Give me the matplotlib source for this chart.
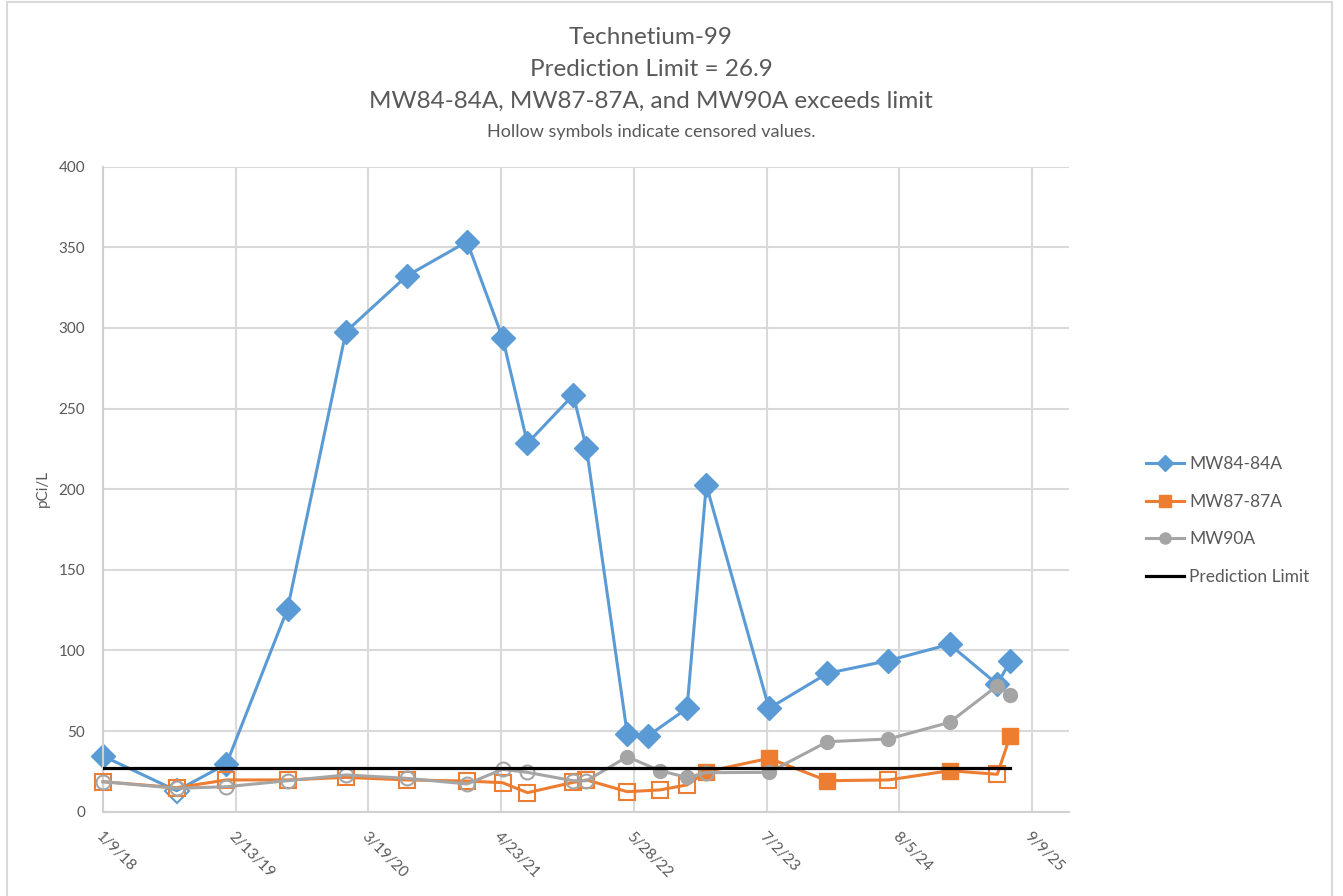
import pandas as pd
import matplotlib.pyplot as plt
from matplotlib.lines import Line2D
from matplotlib.patches import Rectangle

plt.rcParams['font.family'] = ['Lato', 'DejaVu Sans']

# sample dates
dates_84 = ["2018-01-09", "2018-08-19", "2019-01-16", "2019-07-19", "2020-01-11",
            "2020-07-12", "2021-01-10", "2021-04-27", "2021-07-11", "2021-11-26",
            "2022-01-05", "2022-05-08", "2022-07-10", "2022-11-04", "2023-01-01",
            "2023-07-09", "2024-01-01", "2024-07-03", "2025-01-03", "2025-05-27",
            "2025-07-05"]
dates_87_90 = ["2018-01-09", "2018-08-19", "2019-01-16", "2019-07-19", "2020-01-11",
               "2020-07-12", "2021-01-10", "2021-04-27", "2021-07-11", "2021-11-26",
               "2022-01-05", "2022-05-08", "2022-08-14", "2022-11-04", "2023-01-01",
               "2023-07-09", "2024-01-01", "2024-07-03", "2025-01-03", "2025-05-27",
               "2025-07-05"]

# pCi/L values
mw84 = [34.5, 13, 29.6, 125.7, 297.7, 332.2, 353.5, 294, 228.5, 258.4, 225.3,
        48, 47.1, 64.1, 202.6, 64.1, 85.8, 93.7, 103.8, 79, 93.5]
mw87 = [18.6, 14.9, 19.7, 19.7, 21.3, 19.7, 19, 18, 11.8, 18.2, 19.7,
        12.4, 13.5, 16.6, 24.8, 33.1, 19.2, 19.7, 25.4, 23.2, 47.1]
mw90 = [18.6, 14.5, 15.5, 19.2, 22.8, 20.7, 17.2, 26.3, 24.4, 19.2, 19.2,
        34.1, 25.4, 21.3, 24.2, 24.4, 43.4, 45.1, 55.4, 78.1, 72.4]

# censored (hollow) flags
cens_84 = [0, 1, 0, 0, 0, 0, 0, 0, 0, 0, 0, 0, 0, 0, 0, 0, 0, 0, 0, 0, 0]
cens_87 = [1, 1, 1, 1, 1, 1, 1, 1, 1, 1, 1, 1, 1, 1, 0, 0, 0, 1, 0, 1, 0]
cens_90 = [1, 1, 1, 1, 1, 1, 1, 1, 1, 1, 1, 0, 0, 0, 1, 0, 0, 0, 0, 0, 0]

pred_limit = 26.9
axis_start = "2018-01-09"

fig = plt.figure(figsize=(13.43, 8.96), dpi=100)
ax = fig.add_axes([103 / 1343, 1 - 811.7 / 896, (1069 - 103) / 1343, (811.7 - 166.7) / 896])

series = [
    ("MW84-84A", dates_84, mw84, cens_84, '#5B9BD5', 'D', 12, 8),
    ("MW87-87A", dates_87_90, mw87, cens_87, '#ED7D31', 's', 12, 8),
    ("MW90A", dates_87_90, mw90, cens_90, '#A5A5A5', 'o', 10, 8),
]

handles = []
for z, (name, dts, vals, cens, col, mk, ms, lms) in enumerate(series):
    d = pd.to_datetime(dts)
    s = pd.Series(vals, index=d)
    c = pd.Series(cens, index=d).astype(bool)
    ax.plot(d, vals, color=col, lw=2.2, zorder=2 + z, clip_on=False)
    ax.plot(s[~c].index, s[~c].values, ls='none', marker=mk, ms=ms,
            color=col, mec=col, zorder=2 + z, clip_on=False)
    ax.plot(s[c].index, s[c].values, ls='none', marker=mk, ms=ms,
            mfc='none', mec=col, mew=1.5, zorder=2 + z, clip_on=False)
    handles.append(Line2D([], [], color=col, lw=2.2, marker=mk, ms=lms, label=name))

pl_dates = pd.to_datetime([dates_84[0], dates_84[-1]])
ax.plot(pl_dates, [pred_limit, pred_limit], color='black', lw=2.3, zorder=6)
handles.append(Line2D([], [], color='black', lw=2.3, label='Prediction Limit'))

# axes
start = pd.Timestamp(axis_start)
ticks = pd.date_range(start, periods=8, freq='400D')
ax.set_xticks(ticks)
ax.set_xticklabels([f"{t.month}/{t.day}/{t:%y}" for t in ticks])
ax.set_xlim(start, start + pd.Timedelta(days=2911))
ax.set_ylim(0, 400)
ax.set_yticks(range(0, 401, 50))

for lab in ax.get_xticklabels():
    lab.set_rotation(-45)
    lab.set_ha('left')
    lab.set_va('top')
    lab.set_rotation_mode('anchor')

ax.tick_params(axis='both', length=0, labelsize=11, labelcolor='#595959')
ax.tick_params(axis='x', pad=13)
ax.tick_params(axis='y', pad=13)
ax.grid(True, color='#D9D9D9', lw=1.5)
ax.set_axisbelow(True)
for side in ['top', 'right']:
    ax.spines[side].set_visible(False)
for side in ['left', 'bottom']:
    ax.spines[side].set_color('#D0D0D0')
    ax.spines[side].set_linewidth(1.5)

fig.text(43 / 1343, 1 - 488 / 896, 'pCi/L', rotation=90, ha='center', va='center',
         fontsize=11, color='#595959')

# titles
tc = '#595959'
fig.text(651 / 1343, 1 - 38 / 896, 'Technetium-99', ha='center', va='center', fontsize=17.5, color=tc)
fig.text(651 / 1343, 1 - 69 / 896, 'Prediction Limit = 26.9', ha='center', va='center', fontsize=17.5, color=tc)
fig.text(651 / 1343, 1 - 101 / 896, 'MW84-84A, MW87-87A, and MW90A exceeds limit',
         ha='center', va='center', fontsize=17.5, color=tc)
fig.text(651 / 1343, 1 - 132 / 896, 'Hollow symbols indicate censored values.',
         ha='center', va='center', fontsize=13, color=tc)

fig.legend(handles=handles, loc='upper left', bbox_to_anchor=(1146 / 1343, 1 - 456 / 896),
           frameon=False, fontsize=12.5, handlelength=2.2, handletextpad=0.3,
           labelspacing=1.25, borderpad=0, borderaxespad=0, labelcolor='#595959')

# chart border
fig.patches.append(Rectangle((7 / 1343, -0.01), (1332 - 7) / 1343, 1.01 - 2 / 896,
                             transform=fig.transFigure, fill=False, ec='#D9D9D9', lw=1.5))

fig.savefig('out.png', dpi=100)
